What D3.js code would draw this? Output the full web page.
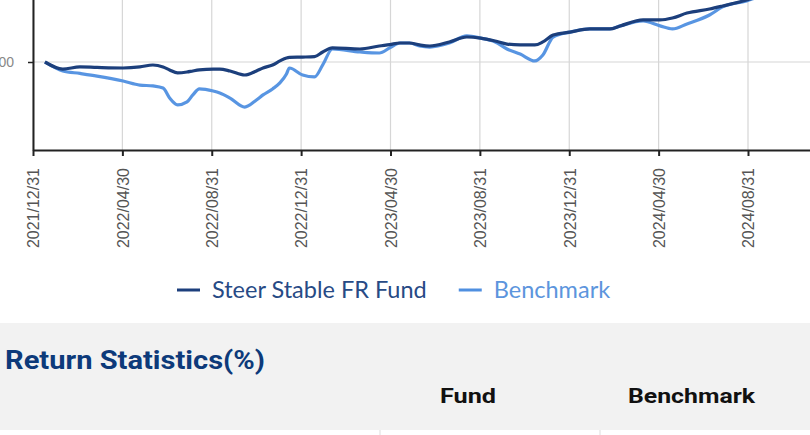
<!DOCTYPE html>
<html>
<head>
  <style>
    body { margin: 0; background: #fff; overflow: hidden; }
    svg { display: block; }
    .tick text { font-family: "Liberation Sans", Arial, sans-serif; }
  </style>
</head>
<body>
<svg id="chart" width="810" height="435"></svg>
<script src="https://cdnjs.cloudflare.com/ajax/libs/d3/7.8.5/d3.min.js"></script>
<script>
  // values (indexed, start = 100)
  const dates = [
    "2022-01-16", "2022-02-09", "2022-03-04", "2022-03-27", "2022-05-01", "2022-05-24",
    "2022-06-11", "2022-06-25", "2022-07-04", "2022-07-15", "2022-07-28", "2022-08-05",
    "2022-08-14", "2022-09-02", "2022-09-11", "2022-09-25", "2022-10-15", "2022-10-31",
    "2022-11-09", "2022-11-22", "2022-12-02", "2022-12-11", "2022-12-15", "2023-01-02",
    "2023-01-18", "2023-01-29", "2023-02-11", "2023-03-20", "2023-04-15", "2023-04-29",
    "2023-05-13", "2023-05-26", "2023-06-09", "2023-06-23", "2023-07-20", "2023-08-13",
    "2023-09-01", "2023-09-21", "2023-10-07", "2023-10-25", "2023-11-14", "2023-11-25",
    "2023-12-09", "2024-01-01", "2024-01-28", "2024-02-24", "2024-03-09", "2024-04-09",
    "2024-05-02", "2024-05-19", "2024-06-08", "2024-07-09", "2024-07-27", "2024-08-29",
    "2024-09-30"
  ];
  const fund = [
    100.00, 99.60, 99.72, 99.69, 99.66, 99.72, 99.83, 99.72, 99.55, 99.38, 99.43, 99.49,
    99.55, 99.60, 99.60, 99.49, 99.26, 99.49, 99.66, 99.83, 100.06, 100.23, 100.26, 100.28,
    100.31, 100.57, 100.80, 100.74, 100.91, 100.99, 101.08, 101.08, 100.97, 100.91, 101.14, 101.42,
    101.36, 101.19, 101.02, 100.97, 100.97, 101.14, 101.53, 101.70, 101.88, 101.88, 102.05, 102.39,
    102.39, 102.50, 102.78, 103.01, 103.18, 103.52, 103.98
  ];
  const benchmark = [
    100.00, 99.49, 99.35, 99.20, 98.92, 98.69, 98.64, 98.52, 97.95, 97.56, 97.73, 98.13,
    98.47, 98.35, 98.24, 97.95, 97.44, 97.84, 98.13, 98.47, 98.81, 99.32, 99.66, 99.26,
    99.15, 99.83, 100.74, 100.57, 100.51, 100.80, 101.08, 101.08, 100.91, 100.85, 101.08, 101.48,
    101.36, 101.14, 100.74, 100.45, 100.06, 100.40, 101.42, 101.70, 101.88, 101.88, 102.05, 102.33,
    102.05, 101.88, 102.16, 102.67, 103.13, 103.47, 103.98
  ];
  const tickDates = [
    "2021/12/31", "2022/04/30", "2022/08/31", "2022/12/31", "2023/04/30",
    "2023/08/31", "2023/12/31", "2024/04/30", "2024/08/31", "2024/12/31"
  ];
  const yTicks = [100];
  const seriesNames = ["Steer Stable FR Fund", "Benchmark"];
  const tableTitle = "Return Statistics(%)";
  const tableHeads = ["Fund", "Benchmark"];

  const colors = ["#1c3f7c", "#4f8fe0"];
  const legendColors = ["#274a85", "#5c95dd"];

  const svg = d3.select("#chart");
  const parseDash = d3.timeParse("%Y-%m-%d");
  const parseSlash = d3.timeParse("%Y/%m/%d");

  const left = 33, bottom = 150, step = 89.375;
  const tickTimes = tickDates.map(parseSlash);

  // ticks in the original are evenly spaced, so map date segments piecewise
  const x = d3.scaleTime()
    .domain(tickTimes)
    .range(tickTimes.map((d, i) => left + i * step));
  const y = d3.scaleLinear()
    .domain([95, 107.5])
    .range([bottom, -70]);

  const shown = tickTimes.slice(0, 9);

  // grid
  svg.append("g")
    .selectAll("line")
    .data(shown)
    .join("line")
    .attr("x1", d => x(d)).attr("x2", d => x(d))
    .attr("y1", bottom).attr("y2", -70)
    .attr("stroke", "#d6d6d6").attr("stroke-width", 1.2);
  svg.append("g")
    .selectAll("line")
    .data(yTicks)
    .join("line")
    .attr("x1", left).attr("x2", 900)
    .attr("y1", d => y(d)).attr("y2", d => y(d))
    .attr("stroke", "#d6d6d6").attr("stroke-width", 1.2);

  const rows = dates.map((d, i) => ({ date: parseDash(d), fund: fund[i], benchmark: benchmark[i] }));

  const line = key => d3.line()
    .x(d => x(d.date))
    .y(d => y(d[key]))
    .curve(d3.curveMonotoneX);

  svg.append("path")
    .datum(rows)
    .attr("fill", "none")
    .attr("stroke", colors[1])
    .attr("stroke-width", 3.2)
    .attr("stroke-opacity", 0.95)
    .attr("d", line("benchmark"));
  svg.append("path")
    .datum(rows)
    .attr("fill", "none")
    .attr("stroke", colors[0])
    .attr("stroke-width", 3.2)
    .attr("d", line("fund"));

  // axes
  const xAxis = svg.append("g")
    .attr("transform", `translate(0,${bottom})`)
    .call(d3.axisBottom(x).tickValues(shown)
      .tickFormat(d3.timeFormat("%Y/%m/%d"))
      .tickSize(6).tickSizeOuter(0));
  xAxis.select(".domain").attr("stroke", "#222").attr("stroke-width", 2);
  xAxis.selectAll(".tick line").attr("stroke", "#222").attr("stroke-width", 2);
  xAxis.selectAll(".tick text")
    .attr("transform", "rotate(-90)")
    .attr("x", -18).attr("y", 0).attr("dy", "0.36em")
    .style("text-anchor", "end")
    .style("font-size", "16px")
    .attr("fill", "#555");

  const yAxis = svg.append("g")
    .attr("transform", `translate(${left},0)`)
    .call(d3.axisLeft(y).tickValues(yTicks).tickSize(5).tickSizeOuter(0).tickPadding(14));
  yAxis.select(".domain").attr("stroke", "#222").attr("stroke-width", 2);
  yAxis.selectAll(".tick line").attr("stroke", "#222").attr("stroke-width", 1.5);
  yAxis.selectAll(".tick text")
    .style("font-size", "14px")
    .attr("fill", "#888");

  // legend
  const legend = svg.append("g").attr("transform", "translate(177,290)");
  let lx = 0;
  seriesNames.forEach((name, i) => {
    const g = legend.append("g").attr("transform", `translate(${lx},0)`);
    g.append("line")
      .attr("x1", 0).attr("x2", 23)
      .attr("stroke", colors[i]).attr("stroke-width", 3);
    const t = g.append("text")
      .attr("x", 35).attr("dy", "0.36em")
      .attr("fill", legendColors[i])
      .style("font-family", "Lato, sans-serif")
      .style("font-size", "23.5px")
      .text(name);
    lx += 35 + t.node().getComputedTextLength() + 32;
  });

  // table header band
  svg.append("rect")
    .attr("x", 0).attr("y", 323)
    .attr("width", 810).attr("height", 107)
    .attr("fill", "#f2f2f2");
  svg.append("text")
    .attr("x", 5).attr("y", 369)
    .attr("fill", "#0d3a7a")
    .attr("textLength", 260).attr("lengthAdjust", "spacingAndGlyphs")
    .style("font-family", "Roboto, sans-serif")
    .style("font-weight", "bold")
    .style("font-size", "25px")
    .text(tableTitle);
  svg.selectAll(".head")
    .data(tableHeads)
    .join("text")
    .attr("class", "head")
    .attr("x", (d, i) => [440, 628][i])
    .attr("y", 403)
    .attr("textLength", (d, i) => [56, 127][i])
    .attr("lengthAdjust", "spacingAndGlyphs")
    .attr("fill", "#111")
    .style("font-family", "Roboto, sans-serif")
    .style("font-weight", "bold")
    .style("font-size", "21px")
    .text(d => d);
  svg.selectAll(".sep")
    .data([380, 600])
    .join("line")
    .attr("class", "sep")
    .attr("x1", d => d).attr("x2", d => d)
    .attr("y1", 430).attr("y2", 435)
    .attr("stroke", "#ddd");
</script>
</body>
</html>
